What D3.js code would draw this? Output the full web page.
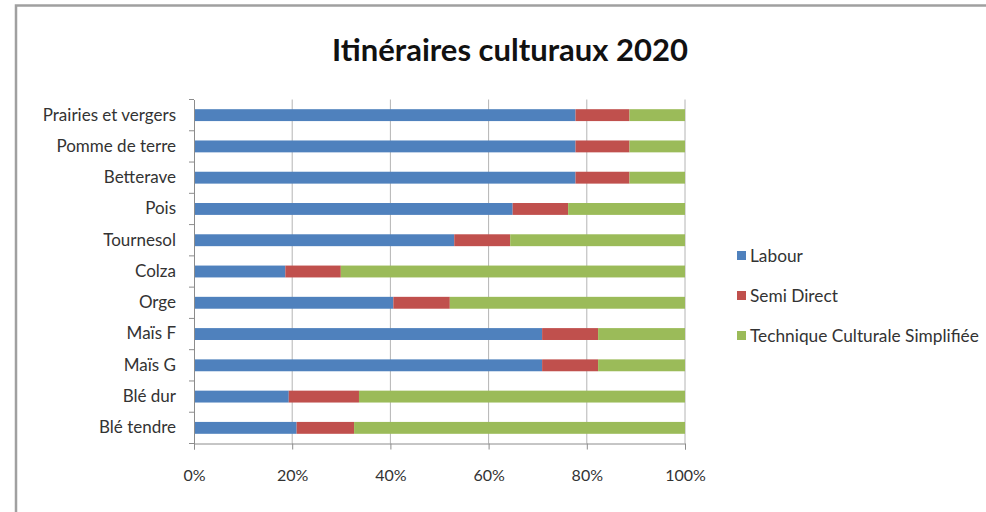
<!DOCTYPE html>
<html>
<head>
<meta charset="utf-8">
<script src="https://cdn.jsdelivr.net/npm/d3@7"></script>
<style>
  body { margin: 0; background: #fff; }
  svg { display: block; font-family: Lato, "Open Sans", sans-serif; }
</style>
</head>
<body>
<svg id="chart" width="986" height="512"></svg>
<script>
// data, top to bottom as read in the picture
const cultures = ["Prairies et vergers", "Pomme de terre", "Betterave", "Pois", "Tournesol",
    "Colza", "Orge", "Maïs F", "Maïs G", "Blé dur", "Blé tendre"];
const labour = [77.7, 77.7, 77.7, 64.9, 53.0, 18.6, 40.6, 70.9, 70.9, 19.3, 20.9];
const semiDirect = [11.0, 11.0, 11.0, 11.3, 11.4, 11.3, 11.5, 11.4, 11.4, 14.3, 11.7];
const tcs = [11.3, 11.3, 11.3, 23.8, 35.6, 70.1, 47.9, 17.7, 17.7, 66.4, 67.4];
const seriesNames = ["Labour", "Semi Direct", "Technique Culturale Simplifiée"];
const seriesColors = ["#4f81bd", "#c0504d", "#9bbb59"];
const xTicks = [0, 0.2, 0.4, 0.6, 0.8, 1];

const svg = d3.select("#chart");

// chart frame
svg.append("rect")
    .attr("x", 16).attr("y", 5.5)
    .attr("width", 1000).attr("height", 600)
    .attr("fill", "#fff")
    .attr("stroke", "#a0a0a0")
    .attr("stroke-width", 2.5);

svg.append("text")
    .attr("x", 510).attr("y", 61)
    .attr("text-anchor", "middle")
    .attr("font-size", 31)
    .attr("font-weight", 700)
    .attr("fill", "#111")
    .text("Itinéraires culturaux 2020");

const plot = {left: 194, right: 685, top: 99.5, bottom: 443.5};

const table = cultures.map((c, i) => ({
    culture: c,
    total: labour[i] + semiDirect[i] + tcs[i],
    "Labour": labour[i],
    "Semi Direct": semiDirect[i],
    "Technique Culturale Simplifiée": tcs[i]
}));

const stacked = d3.stack().keys(seriesNames)
    .value((d, key) => d[key] / d.total)(table);

const x = d3.scaleLinear().domain([0, 1]).range([plot.left, plot.right]);
const y = d3.scaleBand().domain(cultures).range([plot.top, plot.bottom]).paddingInner(0.62).paddingOuter(0.31);

// vertical gridlines
svg.append("g")
    .selectAll("line")
    .data(xTicks.slice(1))
    .join("line")
    .attr("x1", d => x(d)).attr("x2", d => x(d))
    .attr("y1", plot.top).attr("y2", plot.bottom)
    .attr("stroke", "#b4b4b4")
    .attr("stroke-width", 1);

// bars
svg.append("g")
    .selectAll("g")
    .data(stacked)
    .join("g")
    .attr("fill", (d, i) => seriesColors[i])
    .selectAll("rect")
    .data(d => d)
    .join("rect")
    .attr("x", d => x(d[0]))
    .attr("y", d => y(d.data.culture))
    .attr("width", d => x(d[1]) - x(d[0]))
    .attr("height", y.bandwidth());

// x axis
const xAxis = svg.append("g")
    .attr("transform", "translate(0," + plot.bottom + ")")
    .call(d3.axisBottom(x).tickValues(xTicks).tickFormat(d3.format(".0%")).tickSizeOuter(0).tickSize(6).tickPadding(20));
xAxis.select(".domain").attr("stroke", "#8c8c8c");
xAxis.selectAll(".tick line").attr("stroke", "#8c8c8c");
xAxis.selectAll("text")
    .attr("font-size", 16)
    .attr("font-family", "Lato, sans-serif")
    .attr("fill", "#333");

// y axis with ticks at category boundaries
const yAxis = svg.append("g")
    .attr("transform", "translate(" + plot.left + ",0)")
    .call(d3.axisLeft(y).tickSize(0).tickPadding(18));
yAxis.select(".domain").attr("stroke", "#8c8c8c");
yAxis.selectAll("text")
    .attr("font-size", 17)
    .attr("font-family", "Lato, sans-serif")
    .attr("fill", "#333");

const step = (plot.bottom - plot.top) / cultures.length;
svg.append("g")
    .selectAll("line")
    .data(d3.range(cultures.length + 1))
    .join("line")
    .attr("x1", plot.left - 5).attr("x2", plot.left)
    .attr("y1", i => plot.top + i * step).attr("y2", i => plot.top + i * step)
    .attr("stroke", "#8c8c8c");

// legend
const legend = svg.append("g")
    .selectAll("g")
    .data(seriesNames)
    .join("g")
    .attr("transform", (d, i) => "translate(737," + [256, 296, 336][i] + ")");
legend.append("rect")
    .attr("x", 0).attr("y", -5)
    .attr("width", 9).attr("height", 9)
    .attr("fill", (d, i) => seriesColors[i]);
legend.append("text")
    .attr("x", 13).attr("y", 0)
    .attr("dy", "0.35em")
    .attr("font-size", 17.3)
    .attr("fill", "#333")
    .text(d => d);
</script>
</body>
</html>
